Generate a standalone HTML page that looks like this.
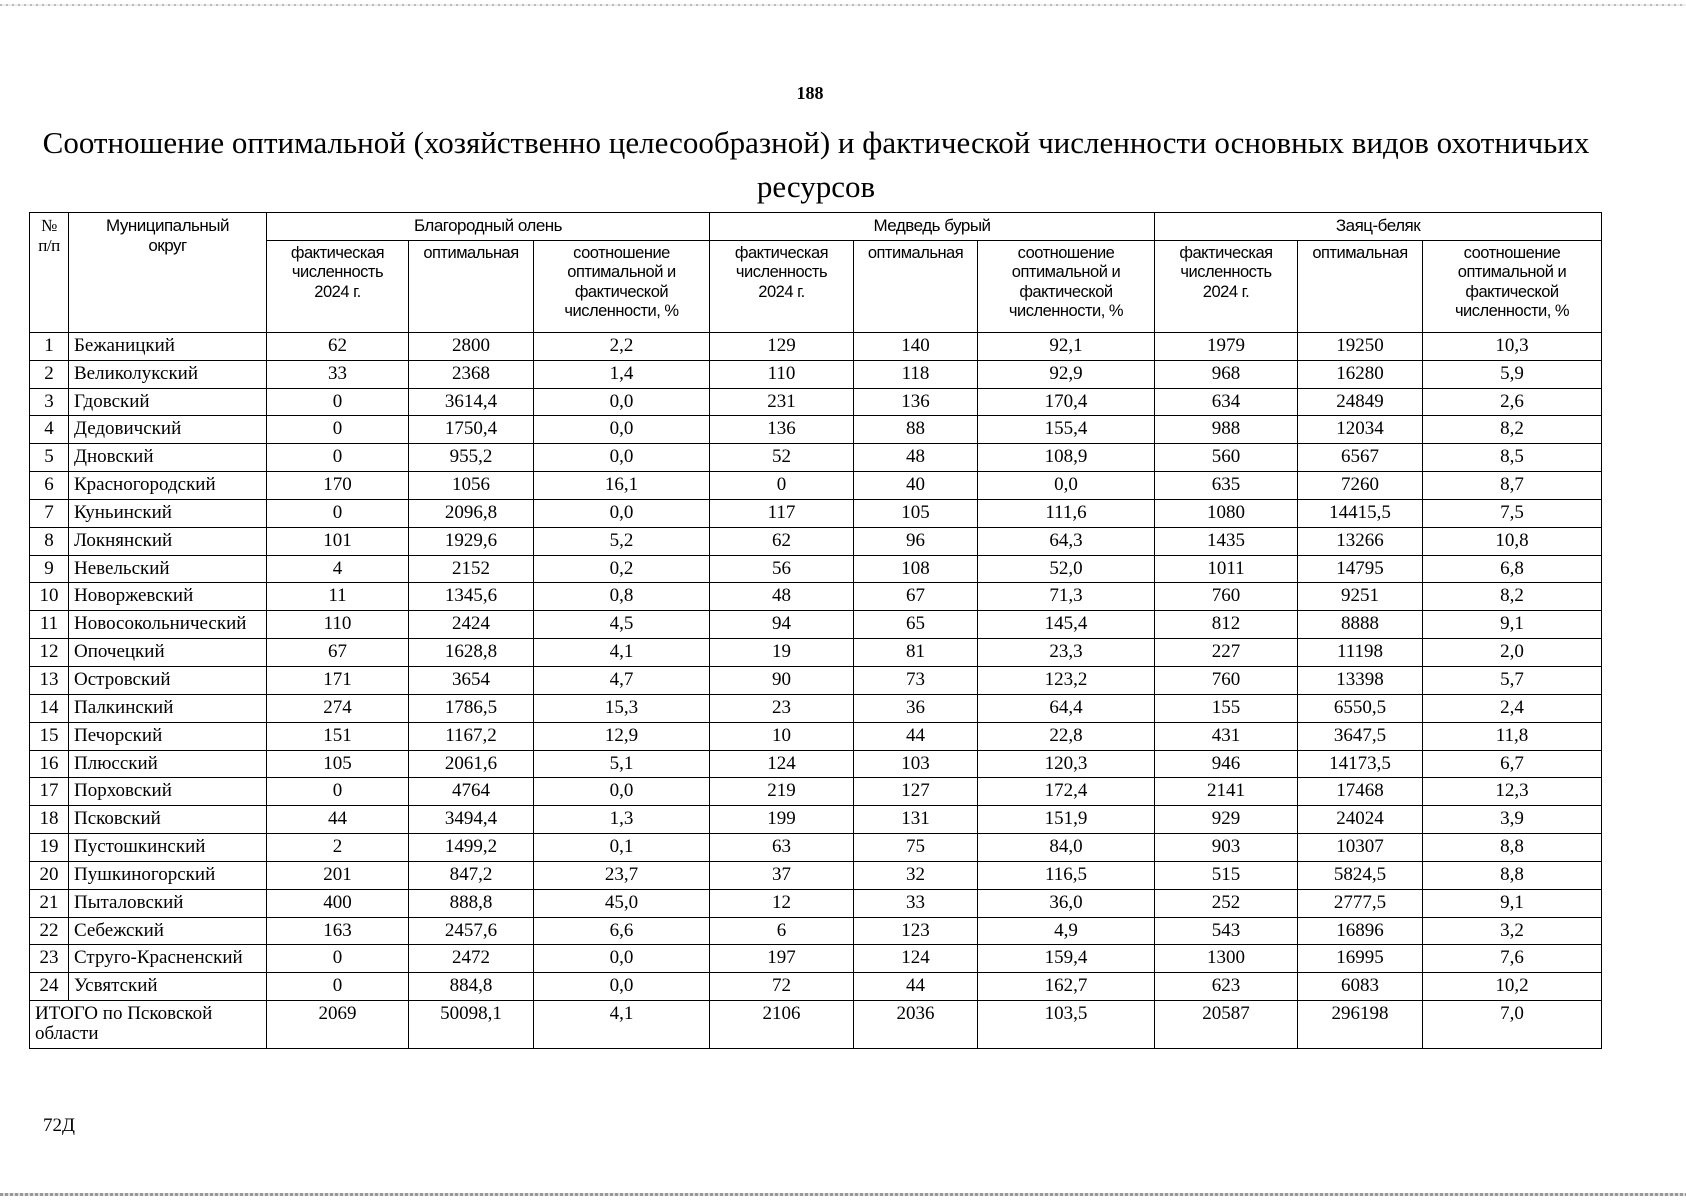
<!DOCTYPE html>
<html><head><meta charset="utf-8"><style>
body{margin:0;background:#fff;width:1686px;height:1200px;position:relative;overflow:hidden;font-family:"Liberation Serif","Noto Serif CJK SC",serif;color:#000}
.pn{position:absolute;left:0;width:1620px;text-align:center;top:83px;font-size:18px;font-weight:bold}
.t{position:absolute;left:0;width:1632px;text-align:center;font-size:31px;line-height:44px;top:121px}
table{position:absolute;left:29px;top:212px;border-collapse:collapse;table-layout:fixed;width:1572px}
td{border:1.6px solid #000;padding:0;text-align:center;font-size:19px;height:23.85px;line-height:20px;vertical-align:top;padding-top:3px;white-space:nowrap;overflow:hidden}
td.n{text-align:left;padding-left:5px}
td.h{font-family:"Liberation Sans",sans-serif;font-size:16.5px;line-height:19.5px;white-space:normal;letter-spacing:-0.5px;padding-left:12px;padding-right:12px}
td.h2{padding-left:2px;padding-right:2px}
.f{position:absolute;left:43px;top:1115px;font-size:19px}
.s1{position:absolute;left:0;right:0;top:1193px;height:3px;background:repeating-linear-gradient(90deg,#999 0 3px,#ddd 3px 5px)}
.s0{position:absolute;left:0;right:0;top:4px;height:2px;background:repeating-linear-gradient(90deg,#bbb 0 2px,#eee 2px 6px)}
</style></head><body>
<div class="s0"></div>
<div class="pn">188</div>
<div class="t">Соотношение оптимальной (хозяйственно целесообразной) и фактической численности основных видов охотничьих<br>ресурсов</div>
<table>
<colgroup><col style="width:39px"><col style="width:198px"><col style="width:142px"><col style="width:125px"><col style="width:176px"><col style="width:144px"><col style="width:124px"><col style="width:177px"><col style="width:143px"><col style="width:125px"><col style="width:179px"></colgroup>
<tr style="height:27px"><td rowspan="2" class="h h2" style="font-family:'Liberation Serif',serif;font-size:17px">№<br>п/п</td><td rowspan="2" class="h" style="font-size:17px">Муниципальный<br>округ</td><td colspan="3" class="h" style="font-size:17px;height:21px">Благородный олень</td><td colspan="3" class="h" style="font-size:17px">Медведь бурый</td><td colspan="3" class="h" style="font-size:17px">Заяц-беляк</td></tr>
<tr><td class="h" style="height:88px">фактическая численность 2024 г.</td><td class="h h2">оптимальная</td><td class="h">соотношение оптимальной и фактической численности, %</td><td class="h">фактическая численность 2024 г.</td><td class="h h2">оптимальная</td><td class="h">соотношение оптимальной и фактической численности, %</td><td class="h">фактическая численность 2024 г.</td><td class="h h2">оптимальная</td><td class="h">соотношение оптимальной и фактической численности, %</td></tr>
<tr><td>1</td><td class="n">Бежаницкий</td><td>62</td><td>2800</td><td>2,2</td><td>129</td><td>140</td><td>92,1</td><td>1979</td><td>19250</td><td>10,3</td></tr>
<tr><td>2</td><td class="n">Великолукский</td><td>33</td><td>2368</td><td>1,4</td><td>110</td><td>118</td><td>92,9</td><td>968</td><td>16280</td><td>5,9</td></tr>
<tr><td>3</td><td class="n">Гдовский</td><td>0</td><td>3614,4</td><td>0,0</td><td>231</td><td>136</td><td>170,4</td><td>634</td><td>24849</td><td>2,6</td></tr>
<tr><td>4</td><td class="n">Дедовичский</td><td>0</td><td>1750,4</td><td>0,0</td><td>136</td><td>88</td><td>155,4</td><td>988</td><td>12034</td><td>8,2</td></tr>
<tr><td>5</td><td class="n">Дновский</td><td>0</td><td>955,2</td><td>0,0</td><td>52</td><td>48</td><td>108,9</td><td>560</td><td>6567</td><td>8,5</td></tr>
<tr><td>6</td><td class="n">Красногородский</td><td>170</td><td>1056</td><td>16,1</td><td>0</td><td>40</td><td>0,0</td><td>635</td><td>7260</td><td>8,7</td></tr>
<tr><td>7</td><td class="n">Куньинский</td><td>0</td><td>2096,8</td><td>0,0</td><td>117</td><td>105</td><td>111,6</td><td>1080</td><td>14415,5</td><td>7,5</td></tr>
<tr><td>8</td><td class="n">Локнянский</td><td>101</td><td>1929,6</td><td>5,2</td><td>62</td><td>96</td><td>64,3</td><td>1435</td><td>13266</td><td>10,8</td></tr>
<tr><td>9</td><td class="n">Невельский</td><td>4</td><td>2152</td><td>0,2</td><td>56</td><td>108</td><td>52,0</td><td>1011</td><td>14795</td><td>6,8</td></tr>
<tr><td>10</td><td class="n">Новоржевский</td><td>11</td><td>1345,6</td><td>0,8</td><td>48</td><td>67</td><td>71,3</td><td>760</td><td>9251</td><td>8,2</td></tr>
<tr><td>11</td><td class="n">Новосокольнический</td><td>110</td><td>2424</td><td>4,5</td><td>94</td><td>65</td><td>145,4</td><td>812</td><td>8888</td><td>9,1</td></tr>
<tr><td>12</td><td class="n">Опочецкий</td><td>67</td><td>1628,8</td><td>4,1</td><td>19</td><td>81</td><td>23,3</td><td>227</td><td>11198</td><td>2,0</td></tr>
<tr><td>13</td><td class="n">Островский</td><td>171</td><td>3654</td><td>4,7</td><td>90</td><td>73</td><td>123,2</td><td>760</td><td>13398</td><td>5,7</td></tr>
<tr><td>14</td><td class="n">Палкинский</td><td>274</td><td>1786,5</td><td>15,3</td><td>23</td><td>36</td><td>64,4</td><td>155</td><td>6550,5</td><td>2,4</td></tr>
<tr><td>15</td><td class="n">Печорский</td><td>151</td><td>1167,2</td><td>12,9</td><td>10</td><td>44</td><td>22,8</td><td>431</td><td>3647,5</td><td>11,8</td></tr>
<tr><td>16</td><td class="n">Плюсский</td><td>105</td><td>2061,6</td><td>5,1</td><td>124</td><td>103</td><td>120,3</td><td>946</td><td>14173,5</td><td>6,7</td></tr>
<tr><td>17</td><td class="n">Порховский</td><td>0</td><td>4764</td><td>0,0</td><td>219</td><td>127</td><td>172,4</td><td>2141</td><td>17468</td><td>12,3</td></tr>
<tr><td>18</td><td class="n">Псковский</td><td>44</td><td>3494,4</td><td>1,3</td><td>199</td><td>131</td><td>151,9</td><td>929</td><td>24024</td><td>3,9</td></tr>
<tr><td>19</td><td class="n">Пустошкинский</td><td>2</td><td>1499,2</td><td>0,1</td><td>63</td><td>75</td><td>84,0</td><td>903</td><td>10307</td><td>8,8</td></tr>
<tr><td>20</td><td class="n">Пушкиногорский</td><td>201</td><td>847,2</td><td>23,7</td><td>37</td><td>32</td><td>116,5</td><td>515</td><td>5824,5</td><td>8,8</td></tr>
<tr><td>21</td><td class="n">Пыталовский</td><td>400</td><td>888,8</td><td>45,0</td><td>12</td><td>33</td><td>36,0</td><td>252</td><td>2777,5</td><td>9,1</td></tr>
<tr><td>22</td><td class="n">Себежский</td><td>163</td><td>2457,6</td><td>6,6</td><td>6</td><td>123</td><td>4,9</td><td>543</td><td>16896</td><td>3,2</td></tr>
<tr><td>23</td><td class="n">Струго-Красненский</td><td>0</td><td>2472</td><td>0,0</td><td>197</td><td>124</td><td>159,4</td><td>1300</td><td>16995</td><td>7,6</td></tr>
<tr><td>24</td><td class="n">Усвятский</td><td>0</td><td>884,8</td><td>0,0</td><td>72</td><td>44</td><td>162,7</td><td>623</td><td>6083</td><td>10,2</td></tr>
<tr><td colspan="2" class="n" style="white-space:normal;height:44px">ИТОГО по Псковской области</td><td>2069</td><td>50098,1</td><td>4,1</td><td>2106</td><td>2036</td><td>103,5</td><td>20587</td><td>296198</td><td>7,0</td></tr>
</table>
<div class="f">72Д</div>
<div class="s1"></div>
</body></html>
